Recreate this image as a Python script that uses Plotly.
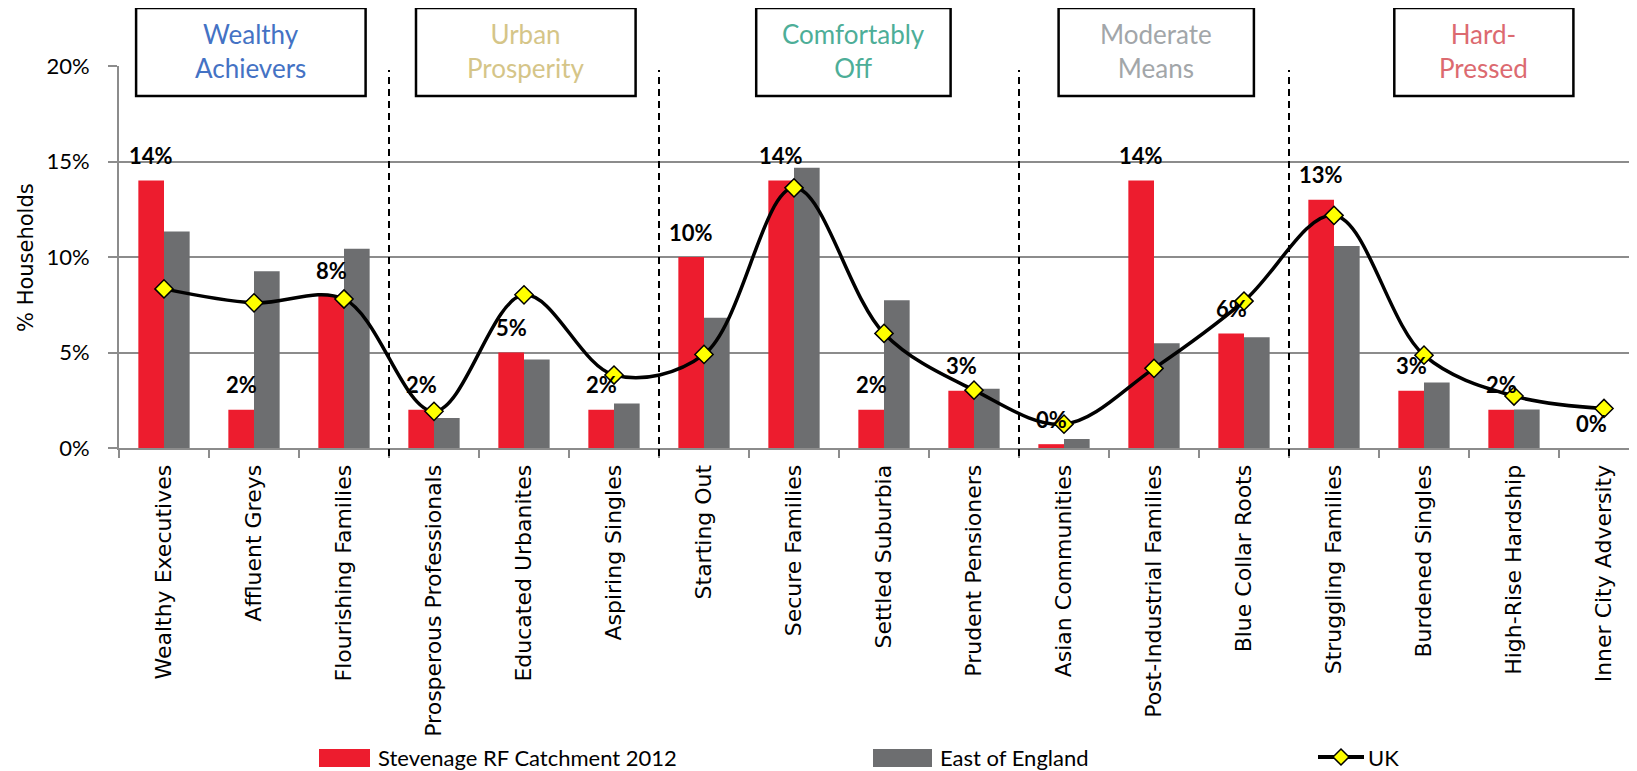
import plotly.graph_objects as go

# ---------------- data ----------------
categories = ["Wealthy Executives", "Affluent Greys", "Flourishing Families",
              "Prosperous Professionals", "Educated Urbanites", "Aspiring Singles",
              "Starting Out", "Secure Families", "Settled Suburbia", "Prudent Pensioners",
              "Asian Communities", "Post-Industrial Families", "Blue Collar Roots",
              "Struggling Families", "Burdened Singles", "High-Rise Hardship",
              "Inner City Adversity"]
stevenage = [14, 2, 8, 2, 5, 2, 10, 14, 2, 3, 0.2, 14, 6, 13, 3, 2, 0]
east_of_england = [11.34, 9.25, 10.43, 1.57, 4.64, 2.33, 6.82, 14.67, 7.73, 3.1,
                   0.47, 5.48, 5.8, 10.57, 3.43, 2.02, 0]
uk = [8.33, 7.6, 7.8, 1.92, 8.02, 3.82, 4.9, 13.62, 6.0, 3.03,
      1.25, 4.17, 7.69, 12.18, 4.86, 2.72, 2.07]
group_names = ["Wealthy<br>Achievers", "Urban<br>Prosperity", "Comfortably<br>Off",
               "Moderate<br>Means", "Hard-<br>Pressed"]
y_tick_values = [0, 5, 10, 15, 20]
y_tick_labels = ["0%", "5%", "10%", "15%", "20%"]
y_title = "% Households"
series_names = ["Stevenage RF Catchment 2012", "East of England", "UK"]

# ---------------- geometry / style ----------------
W, H = 1637, 771
OFF = 8                      # page body margin
L_PAGE, TOP_PAGE, AXIS_PAGE = 119, 66, 448
L_FIG, TOP_FIG, AXIS_FIG = L_PAGE - OFF, TOP_PAGE - OFF, AXIS_PAGE - OFF
CAT_W = 90.0
PLOT_W = W - L_FIG
RED = "#ED1C2E"
GREY = "#6D6E70"
GRID = "#8C8C8C"
group_colors = ["#4472C4", "#D5C588", "#4DAE98", "#A2A6A9", "#DC6A70"]
group_spans = [(-0.31, 2.24), (2.8, 5.24), (6.58, 8.74), (9.94, 12.11), (13.67, 15.66)]
separators = [2.5, 5.5, 9.5, 12.5]
CAL = "Lato, Carlito, Calibri, sans-serif"
WIDE = "DejaVu Sans, Verdana, sans-serif"


def px_x(p):
    return (p - OFF - L_FIG) / PLOT_W


def px_y(p):
    return (AXIS_FIG - (p - OFF)) / (AXIS_FIG - TOP_FIG)


fig = go.Figure()
fig.add_trace(go.Bar(x=categories, y=stevenage, name=series_names[0],
                     marker=dict(color=RED, line=dict(width=0)), showlegend=False))
fig.add_trace(go.Bar(x=categories, y=east_of_england, name=series_names[1],
                     marker=dict(color=GREY, line=dict(width=0)), showlegend=False))
fig.add_trace(go.Scatter(x=categories, y=uk, name=series_names[2], mode="lines+markers",
                         line=dict(color="black", width=3.5, shape="spline", smoothing=1.0),
                         marker=dict(symbol="diamond", size=14, color="#FFFF00",
                                     line=dict(color="black", width=1.5)),
                         showlegend=False))

bar_w = CAT_W * (1 - 0.43) / 2.0
annotations = []
for c, v in zip(categories, stevenage):
    annotations.append(dict(x=c, y=v, xref="x", yref="y", text=f"{int(round(v))}%",
                            showarrow=False, xshift=-bar_w / 2, yshift=25,
                            font=dict(family=CAL, size=22, color="black", weight="bold"),
                            xanchor="center", yanchor="middle"))

# y-axis title
annotations.append(dict(x=px_x(26), y=px_y(258), xref="paper", yref="paper",
                        text=y_title, textangle=-90, showarrow=False,
                        xanchor="center", yanchor="middle",
                        font=dict(family=WIDE, size=21, color="black")))

shapes = []
for s in separators:
    shapes.append(dict(type="line", xref="x", yref="paper", x0=s, x1=s,
                       y0=px_y(456), y1=px_y(70),
                       line=dict(color="black", width=2, dash="7px,5px")))
for (a, b), name, col in zip(group_spans, group_names, group_colors):
    shapes.append(dict(type="rect", xref="x", yref="paper", x0=a, x1=b,
                       y0=px_y(96), y1=px_y(8), fillcolor="white",
                       line=dict(color="black", width=2.5), layer="above"))
    annotations.append(dict(x=(a + b) / 2, y=px_y(51), xref="x", yref="paper",
                            text=name, showarrow=False, xanchor="center", yanchor="middle",
                            font=dict(family=CAL, size=26, color=col)))

# manual legend
LEG_Y = 757
shapes.append(dict(type="rect", xref="paper", yref="paper", x0=px_x(319), x1=px_x(370),
                   y0=px_y(767), y1=px_y(749), fillcolor=RED, line=dict(width=0)))
annotations.append(dict(x=px_x(376), y=px_y(LEG_Y), xref="paper", yref="paper",
                        text=series_names[0], showarrow=False, xanchor="left", yanchor="middle",
                        font=dict(family=CAL, size=22, color="black")))
shapes.append(dict(type="rect", xref="paper", yref="paper", x0=px_x(873), x1=px_x(932),
                   y0=px_y(767), y1=px_y(749), fillcolor=GREY, line=dict(width=0)))
annotations.append(dict(x=px_x(938), y=px_y(LEG_Y), xref="paper", yref="paper",
                        text=series_names[1], showarrow=False, xanchor="left", yanchor="middle",
                        font=dict(family=CAL, size=22, color="black")))
shapes.append(dict(type="line", xref="paper", yref="paper", x0=px_x(1318), x1=px_x(1364),
                   y0=px_y(LEG_Y), y1=px_y(LEG_Y), line=dict(color="black", width=4)))
cx, cy, r = 1341, LEG_Y, 8
shapes.append(dict(type="path", xref="paper", yref="paper",
                   path=(f"M {px_x(cx - r)},{px_y(cy)} L {px_x(cx)},{px_y(cy - r)} "
                         f"L {px_x(cx + r)},{px_y(cy)} L {px_x(cx)},{px_y(cy + r)} Z"),
                   fillcolor="#FFFF00", line=dict(color="black", width=1.5)))
annotations.append(dict(x=px_x(1366), y=px_y(LEG_Y), xref="paper", yref="paper",
                        text=series_names[2], showarrow=False, xanchor="left", yanchor="middle",
                        font=dict(family=CAL, size=22, color="black")))

fig.update_layout(
    width=W, height=H, template="none",
    margin=dict(l=L_FIG, r=0, t=TOP_FIG, b=H - AXIS_FIG, pad=0, autoexpand=False),
    paper_bgcolor="white", plot_bgcolor="white",
    barmode="group", bargap=0.43, bargroupgap=0,
    showlegend=False,
    shapes=shapes, annotations=annotations,
    xaxis=dict(type="category", range=[-0.5, -0.5 + PLOT_W / CAT_W],
               tickson="boundaries", ticks="outside", ticklen=8, tickwidth=2,
               tickcolor=GRID, showline=True, linecolor=GRID, linewidth=2,
               showgrid=False, zeroline=False, tickangle=-90, automargin=False,
               ticklabelstandoff=6,
               tickfont=dict(family=WIDE, size=22, color="black")),
    yaxis=dict(range=[0, 20], tickmode="array", tickvals=y_tick_values, ticktext=y_tick_labels,
               ticks="outside", ticklen=9, tickwidth=2, tickcolor=GRID,
               showline=True, linecolor=GRID, linewidth=2,
               showgrid=True, gridcolor=GRID, gridwidth=2, zeroline=False,
               automargin=False, ticklabelstandoff=14,
               tickfont=dict(family=CAL, size=22, color="black")),
)

fig.write_html("out.html")
